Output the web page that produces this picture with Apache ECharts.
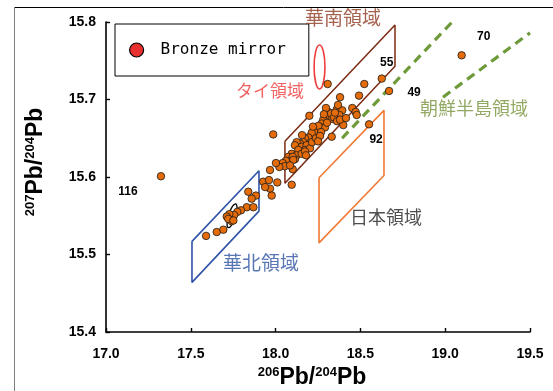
<!DOCTYPE html>
<html><head><meta charset="utf-8">
<script src="https://cdn.jsdelivr.net/npm/echarts@6/dist/echarts.min.js"></script>
<style>html,body{margin:0;padding:0;background:#fff}#c{width:553px;height:391px}</style>
</head><body><div id="c"></div>
<script>
// Axis ticks
const xTicks = [17.0, 17.5, 18.0, 18.5, 19.0, 19.5];
const yTicks = [15.4, 15.5, 15.6, 15.7, 15.8];

// Bronze mirrors: [206Pb/204Pb, 207Pb/204Pb]
const mirrors = [
  [18.307,15.720],[18.523,15.720],[18.380,15.703],[18.492,15.705],
  [18.199,15.679],[18.360,15.687],[18.393,15.686],[18.452,15.689],[18.472,15.684],[18.478,15.680],
  [18.376,15.680],[18.311,15.684],[18.321,15.678],[18.334,15.675],[18.281,15.674],[18.272,15.669],
  [18.258,15.665],[18.291,15.664],[18.399,15.667],[18.327,15.682],[18.344,15.677],[18.362,15.672],
  [18.303,15.670],[18.380,15.674],[18.297,15.689],[18.350,15.683],
  [18.331,15.652],[17.986,15.655],[18.242,15.661],[18.222,15.656],[18.203,15.652],[18.183,15.645],
  [18.252,15.666],[18.228,15.658],[18.213,15.657],[18.193,15.651],[18.268,15.658],[18.173,15.650],
  [18.163,15.645],[18.144,15.643],[18.124,15.645],[18.114,15.641],[18.154,15.639],[18.183,15.641],
  [18.173,15.635],[18.134,15.635],[18.203,15.637],[18.215,15.645],[18.238,15.650],[18.262,15.653],
  [18.095,15.630],[18.124,15.628],[18.154,15.630],[18.075,15.626],[18.114,15.623],[18.071,15.620],
  [18.173,15.633],[18.179,15.628],[18.101,15.626],[18.104,15.622],[18.061,15.621],[18.042,15.618],
  [18.054,15.614],[18.022,15.613],[18.002,15.618],[18.101,15.610],[17.967,15.609],[18.085,15.615],
  [17.927,15.594],[17.961,15.596],[18.010,15.593],[18.095,15.590],[17.967,15.585],[17.938,15.587],
  [17.977,15.576],[17.839,15.581],[17.884,15.576],[17.859,15.572],
  [17.830,15.561],[17.796,15.557],[17.774,15.555],[17.756,15.551],[17.727,15.552],[17.712,15.549],
  [17.741,15.543],[17.721,15.546],[17.751,15.544],[17.869,15.561],[17.590,15.524],[17.653,15.529],
  [17.692,15.532],
  [18.285,15.681],[18.368,15.693],[18.220,15.665],[18.156,15.654],[18.250,15.646],[18.415,15.676]
];

// Numbered mirrors
const numberedIds = ['55', '49', '70', '92', '116'];
const numberedValues = [[18.626,15.727],[18.669,15.711],[19.097,15.757],[18.551,15.668],[17.324,15.601]];

// Region outlines
const southChina = [[18.055,15.646],[18.704,15.796],[18.704,15.743],[18.055,15.592],[18.055,15.646]];
const northChina = [[17.507,15.517],[17.902,15.608],[17.902,15.556],[17.507,15.464],[17.507,15.517]];
const japan = [[18.256,15.599],[18.639,15.686],[18.639,15.602],[18.256,15.515],[18.256,15.599]];
const koreaUpper = [[18.392,15.650],[19.058,15.804]];
const koreaLower = [[18.987,15.703],[19.500,15.786]];
// Ellipses: [centre x, centre y, half-width, half-height]
const thaiField = [18.259, 15.742, 0.032, 0.0284];
const northCore = [17.743, 15.550, 0.0206, 0.0161];

// Region names and where they sit
const regionNames = ['華南領域', 'タイ領域', '朝鮮半島領域', '日本領域', '華北領域'];
const regionAnchors = [[18.397,15.805],[17.967,15.712],[19.170,15.689],[18.651,15.548],[17.914,15.489]];

const regionColors = ['#8E3B22', '#EE3B3B', '#77933C', '#222222', '#2E54A0'];
const regionFontSizes = [19, 17, 18, 18, 19];
const numberOffsets = { '55': [5, -16], '49': [25, 2], '70': [22, -19], '92': [7, 15], '116': [-33, 15] };

const chart = echarts.init(document.getElementById('c'), null, { renderer: 'canvas' });

const tickFont = { fontFamily: 'Liberation Sans, Arial, sans-serif', fontWeight: 'bold', fontSize: 14, color: '#000' };

function outline(data, color, width, dashed) {
  return {
    type: 'line', data: data, symbol: 'none', silent: true, clip: false, z: 1,
    lineStyle: { color: color, width: width, type: dashed ? [9, 6] : 'solid' }
  };
}

function ellipseSeries(e, color, width, tilt) {
  return {
    type: 'custom', silent: true, clip: false, z: 3,
    data: [[e[0], e[1]]],
    renderItem: function (params, api) {
      const c = api.coord([api.value(0), api.value(1)]);
      const s = api.size([e[2], e[3]]);
      return {
        type: 'ellipse',
        shape: { cx: 0, cy: 0, rx: s[0], ry: s[1] },
        x: c[0], y: c[1], rotation: tilt,
        style: { fill: 'none', stroke: color, lineWidth: width }
      };
    }
  };
}

const mirrorData = mirrors.map(v => v).concat(numberedValues.map((v, i) => ({
  value: v,
  label: {
    show: true, position: 'inside', formatter: numberedIds[i],
    offset: numberOffsets[numberedIds[i]],
    fontFamily: 'Liberation Sans, Arial, sans-serif', fontWeight: 'bold', fontSize: 12, color: '#000'
  }
})));

const titleRich = {
  s: { fontFamily: 'Liberation Sans, Arial', fontWeight: 'bold', fontSize: 13, verticalAlign: 'top', lineHeight: 24, fill: '#000', padding: [0, 0, 9, 0] },
  b: { fontFamily: 'Liberation Sans, Arial', fontWeight: 'bold', fontSize: 23, lineHeight: 24, fill: '#000' }
};

const option = {
  backgroundColor: '#fff',
  animation: false,
  grid: { left: 106, right: 23, top: 22, bottom: 59, containLabel: false, outerBoundsMode: 'none' },
  xAxis: {
    type: 'value', min: xTicks[0], max: xTicks[xTicks.length - 1], interval: 0.5,
    axisLine: { show: true, lineStyle: { color: '#000', width: 1.6 } },
    axisTick: { show: true, inside: true, length: 4, lineStyle: { color: '#000', width: 1.4 } },
    splitLine: { show: false },
    axisLabel: Object.assign({ margin: 15, formatter: v => v.toFixed(1) }, tickFont)
  },
  yAxis: {
    type: 'value', min: yTicks[0], max: yTicks[yTicks.length - 1], interval: 0.1,
    axisLine: { show: true, lineStyle: { color: '#000', width: 1.6 } },
    axisTick: { show: true, inside: true, length: 4, lineStyle: { color: '#000', width: 1.4 } },
    splitLine: { show: false },
    axisLabel: Object.assign({ margin: 10, formatter: v => v.toFixed(1) }, tickFont)
  },
  legend: {
    left: 115, top: 24, orient: 'vertical',
    padding: [18, 23, 18, 14],
    borderColor: '#000', borderWidth: 1, backgroundColor: '#fff',
    itemWidth: 14, itemHeight: 14, icon: 'circle',
    selectedMode: false,
    textStyle: { fontFamily: 'DejaVu Sans Mono, monospace', fontSize: 16, color: '#000', padding: [0, 0, 0, 12] },
    data: [{ name: 'Bronze mirror', itemStyle: { color: '#E8302F', borderColor: '#000', borderWidth: 1.2 } }]
  },
  graphic: [
    { type: 'line', shape: { x1: 14, y1: 7.5, x2: 553, y2: 7.5 }, style: { stroke: '#000', lineWidth: 1 }, silent: true },
    { type: 'line', shape: { x1: 14.5, y1: 7, x2: 14.5, y2: 391 }, style: { stroke: '#7f7f7f', lineWidth: 1 }, silent: true },
    {
      type: 'text', x: 312, y: 378, silent: true,
      style: { text: '{s|206}{b|Pb/}{s|204}{b|Pb}', align: 'center', verticalAlign: 'middle', rich: titleRich }
    },
    {
      type: 'text', x: 36, y: 162, rotation: Math.PI / 2, silent: true,
      style: { text: '{s|207}{b|Pb/}{s|204}{b|Pb}', align: 'center', verticalAlign: 'middle', rich: titleRich }
    }
  ],
  series: [
    outline(southChina, '#7B2A12', 1.5, false),
    outline(northChina, '#2F54A7', 1.6, false),
    outline(japan, '#F07A35', 1.6, false),
    outline(koreaUpper, '#6E9A3A', 3.2, true),
    outline(koreaLower, '#6E9A3A', 3.2, true),
    ellipseSeries(thaiField, '#EE3B3B', 1.6, 0),
    ellipseSeries(northCore, '#000', 1.3, -0.3),
    {
      name: 'Bronze mirror', type: 'scatter', z: 5, clip: false,
      symbol: 'circle', symbolSize: 7.5,
      itemStyle: { color: '#E46C0A', borderColor: '#1a1a1a', borderWidth: 0.8, opacity: 1 },
      data: mirrorData
    },
    {
      type: 'scatter', silent: true, clip: false, z: 4,
      symbolSize: 1, itemStyle: { color: 'transparent' },
      data: regionNames.map((n, i) => ({
        value: regionAnchors[i], name: n,
        label: {
          show: true, position: 'inside', formatter: n,
          fontFamily: 'Noto Sans CJK JP, sans-serif', fontSize: regionFontSizes[i], color: regionColors[i]
        }
      }))
    }
  ]
};

chart.setOption(option);
</script>
</body></html>
